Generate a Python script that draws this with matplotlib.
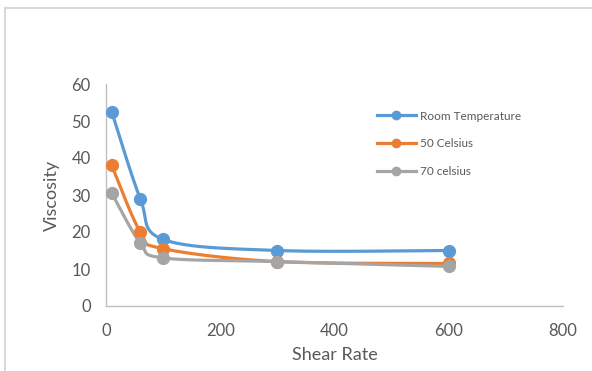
import numpy as np
import matplotlib.pyplot as plt
from matplotlib.lines import Line2D
from matplotlib.patches import Rectangle

plt.rcParams['font.family'] = ['Lato', 'DejaVu Sans']

shear_rate = [10, 60, 100, 300, 600]
room_temp = [52.5, 29, 18, 15, 15]
celsius_50 = [38, 20, 15.5, 12, 11.5]
celsius_70 = [30.5, 17, 13, 12, 10.7]
series_names = ['Room Temperature', '50 Celsius', '70 celsius']
colors = ['#5B9BD5', '#ED7D31', '#A5A5A5']

XMAX, YMAX = 800, 60
AX_W, AX_H = 457, 222  # axes size in pixels, used so smoothing follows screen shape


def smooth(xs, ys, n=40):
    # bezier smoothing through the points, done in pixel-like space
    p = np.column_stack([np.array(xs) / XMAX * AX_W, np.array(ys) / YMAX * AX_H])
    out = []
    for i in range(len(p) - 1):
        p0 = p[i - 1] if i > 0 else p[i]
        p3 = p[i + 2] if i + 2 < len(p) else p[i + 1]
        c1 = p[i] + (p[i + 1] - p0) / 6
        c2 = p[i + 1] - (p3 - p[i]) / 6
        t = np.linspace(0, 1, n)[:, None]
        seg = ((1 - t) ** 3 * p[i] + 3 * (1 - t) ** 2 * t * c1
               + 3 * (1 - t) * t ** 2 * c2 + t ** 3 * p[i + 1])
        out.append(seg)
    pts = np.vstack(out)
    return pts[:, 0] * XMAX / AX_W, pts[:, 1] * YMAX / AX_H


fig = plt.figure(figsize=(5.92, 3.71), dpi=100)
ax = fig.add_axes([106 / 592, 1 - 306 / 371, 457 / 592, 222 / 371])

for ys, c, name in zip([room_temp, celsius_50, celsius_70], colors, series_names):
    sx, sy = smooth(shear_rate, ys)
    ax.plot(sx, sy, color=c, lw=2.3, solid_capstyle='round', zorder=2)
    ax.plot(shear_rate, ys, 'o', color=c, ms=8.5, zorder=3)

ax.set_xlim(0, XMAX)
ax.set_ylim(0, YMAX)
ax.set_xticks(range(0, 801, 200))
ax.set_yticks(range(0, 61, 10))
for s in ['top', 'right']:
    ax.spines[s].set_visible(False)
for s in ['left', 'bottom']:
    ax.spines[s].set_color('#BFBFBF')
    ax.spines[s].set_linewidth(1.0)
ax.tick_params(length=0, labelsize=12, labelcolor='#595959')
ax.tick_params(axis='x', pad=12)
ax.tick_params(axis='y', pad=11)
ax.set_xlabel('Shear Rate', fontsize=13, color='#595959', labelpad=6)
ax.set_ylabel('Viscosity', fontsize=13, color='#595959', labelpad=8)

handles = [Line2D([], [], color=c, lw=2.3, marker='o', ms=6) for c in colors]
fig.legend(handles, series_names, loc='upper left', bbox_to_anchor=(366 / 592, 1 - 100 / 371),
           frameon=False, fontsize=8.5, labelcolor='#595959', handlelength=3.3,
           handletextpad=0.4, labelspacing=1.4)

# light chart-area border
fig.add_artist(Rectangle((5 / 592, -0.05), 1.1, 1 - 8 / 371 + 0.05, transform=fig.transFigure,
                         fill=False, edgecolor='#D9D9D9', lw=1.5))

fig.savefig('out.png', dpi=100)
